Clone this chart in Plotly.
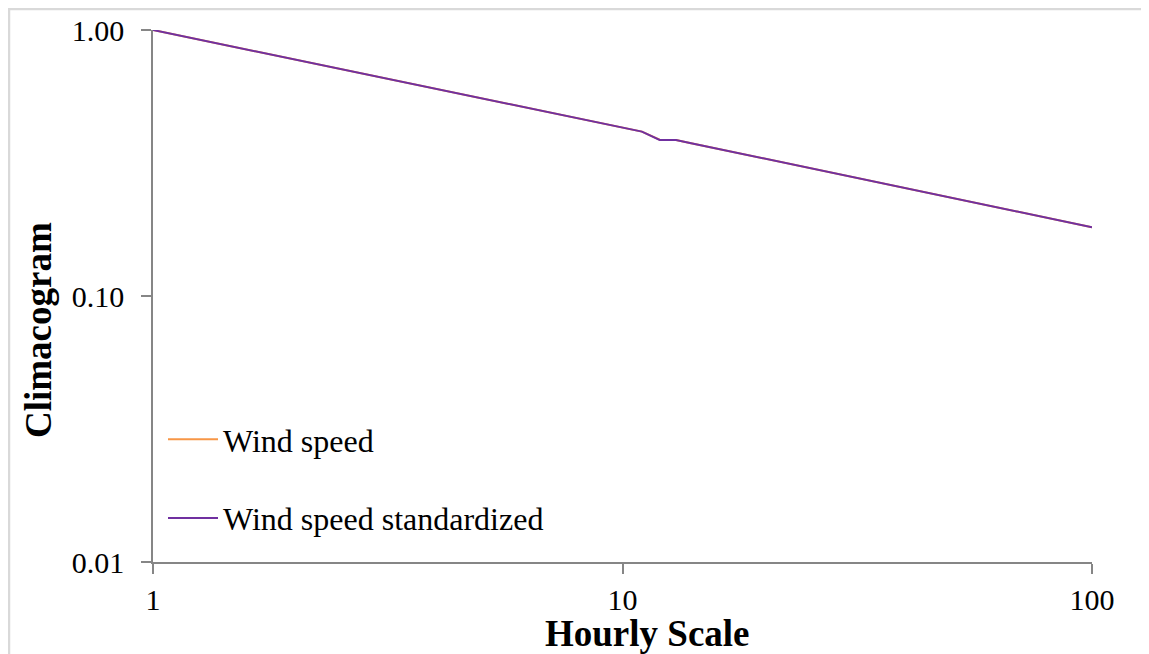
import plotly.graph_objects as go

# Hourly scale (x) and climacogram values (y)
scales = [1, 2, 3, 4, 5, 6, 7, 8, 9, 10, 11, 12, 13, 14, 15, 18, 20, 24, 30, 36, 48, 60, 72, 84, 96, 100]
wind_speed = [1.000, 0.775, 0.667, 0.600, 0.553, 0.517, 0.489, 0.466, 0.445, 0.429, 0.415, 0.387, 0.386,
              0.3755, 0.366, 0.342, 0.329, 0.307, 0.283, 0.2645, 0.2377, 0.2189, 0.2045, 0.1931, 0.1838, 0.1813]
wind_speed_std = [1.000, 0.775, 0.667, 0.600, 0.553, 0.517, 0.489, 0.465, 0.445, 0.428, 0.415, 0.386, 0.386,
                  0.3755, 0.366, 0.342, 0.329, 0.307, 0.283, 0.2645, 0.2377, 0.2189, 0.2045, 0.1931, 0.1838, 0.1813]
series_names = ["Wind speed", "Wind speed standardized"]
series_colors = ["#F79646", "#7030A0"]

x_ticks = [1, 10, 100]
x_tick_labels = ["1", "10", "100"]
y_ticks = [0.01, 0.1, 1]
y_tick_labels = ["0.01", "0.10", "1.00"]

FONT = "Liberation Serif"

fig = go.Figure()
for name, vals, col in zip(series_names, [wind_speed, wind_speed_std], series_colors):
    fig.add_trace(go.Scatter(x=scales, y=vals, mode="lines", name=name, legendgroup=name,
                             line=dict(color=col, width=2)))

axis_common = dict(type="log", showgrid=False, zeroline=False, showline=True, automargin=False,
                   linecolor="#868686", linewidth=1.5, ticks="outside", ticklen=10,
                   tickcolor="#868686", tickwidth=1.5,
                   tickfont=dict(family=FONT, size=30, color="#000000"))

fig.update_xaxes(range=[0, 2], tickvals=x_ticks, ticktext=x_tick_labels,
                 ticklabelstandoff=0, **axis_common)
fig.update_yaxes(range=[-2, 0], tickvals=y_ticks, ticktext=y_tick_labels,
                 ticklabelstandoff=11, **axis_common)

fig.update_layout(
    width=1141, height=646,
    margin=dict(l=145, r=57, t=22, b=92),
    paper_bgcolor="white", plot_bgcolor="white",
    showlegend=True,
    legend=dict(x=10 / 939, y=0.282, xanchor="left", yanchor="top", itemwidth=50,
                bgcolor="rgba(0,0,0,0)", tracegroupgap=34,
                font=dict(family=FONT, size=32, color="#000000")),
    annotations=[
        dict(text="<b>Hourly Scale</b>", xref="paper", yref="paper",
             x=(647 - 153) / 939, y=(562 - 633) / 532, xanchor="center", yanchor="middle",
             showarrow=False, font=dict(family=FONT, size=37, color="#000000")),
        dict(text="<b>Climacogram</b>", xref="paper", yref="paper", textangle=-90,
             x=(38 - 153) / 939, y=(562 - 330) / 532, xanchor="center", yanchor="middle",
             showarrow=False, font=dict(family=FONT, size=37, color="#000000")),
    ],
    shapes=[
        dict(type="line", xref="paper", yref="paper",
             x0=(9 - 153) / 939, x1=(9 - 153) / 939, y0=(562 - 8) / 532, y1=(562 - 670) / 532,
             line=dict(color="#D9D9D9", width=2.5)),
        dict(type="line", xref="paper", yref="paper",
             x0=(9 - 153) / 939, x1=(1149 - 153) / 939, y0=(562 - 9) / 532, y1=(562 - 9) / 532,
             line=dict(color="#D9D9D9", width=2.5)),
    ],
)

fig.write_html("out.html")
